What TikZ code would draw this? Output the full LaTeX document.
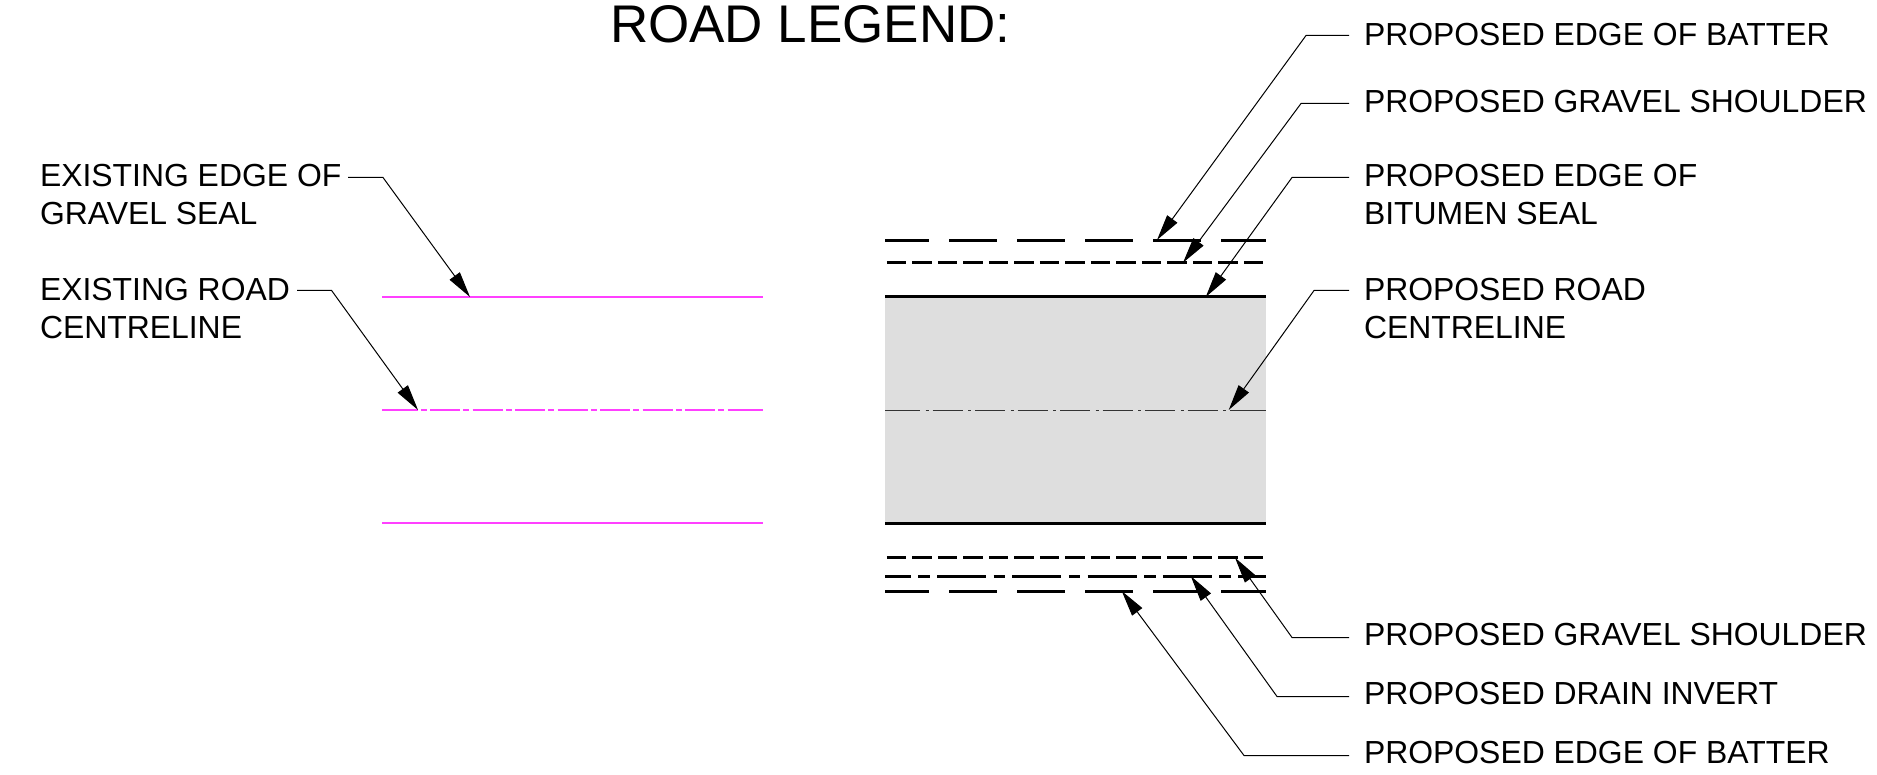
\documentclass[tikz,border=0pt]{standalone}
\usepackage{fontspec}
\setmainfont{Liberation Sans}
\usetikzlibrary{arrows.meta}
\definecolor{roadgrey}{HTML}{DEDEDE}
\definecolor{exmag}{HTML}{FF40FF}
\tikzset{
  lab/.style={anchor=north west,inner sep=0pt,outer sep=0pt,align=left,font=\fontsize{31.9}{38.2}\selectfont},
  titletext/.style={anchor=base west,inner sep=0pt,outer sep=0pt,font=\fontsize{53}{60}\selectfont},
  leader/.style={draw=black,line width=1pt,-{Triangle[length=26pt,width=12.5pt]}},
  heavy/.style={draw=black,line width=2.6pt},
  thinline/.style={draw=black!80,line width=1pt},
  exline/.style={draw=exmag,line width=1.9pt},
  batter/.style={heavy,dash pattern=on 47.5pt off 20.5pt,dash phase=3.7pt},
  shoulder/.style={heavy,dash pattern=on 19.3pt off 6.2pt,dash phase=23.7pt},
  drain/.style={heavy,dash pattern=on 49pt off 7.5pt on 11.6pt off 7.2pt,dash phase=23.3pt},
  propcl/.style={thinline,dash pattern=on 30pt off 5.5pt on 3.3pt off 3.7pt},
  excl/.style={exline,dash pattern=on 30pt off 3.3pt on 6pt off 3.2pt}
}
\begin{document}
\begin{tikzpicture}[x=1pt,y=-1pt]
\useasboundingbox (0,0) rectangle (1877,775);
\fill[white] (0,0) rectangle (1877,775);

\node[titletext] (title) at (610,42.2) {ROAD LEGEND:};

% road band
\fill[roadgrey] (885,297) rectangle (1266,523.5);
\coordinate (sealTL) at (885,296.5);   \coordinate (sealTR) at (1266,296.5);
\coordinate (sealBL) at (885,523.5); \coordinate (sealBR) at (1266,523.5);
\draw[heavy] (sealTL) -- (sealTR);
\draw[heavy] (sealBL) -- (sealBR);
\draw[batter] (885,240.5) -- (1266,240.5);
\draw[shoulder] (885,262.5) -- (1266,262.5);
\draw[shoulder] (885,557.5) -- (1266,557.5);
\draw[drain] (885,576.5) -- (1266,576.5);
\draw[batter] (885,591.5) -- (1266,591.5);
\draw[thinline] (885,410.5) -- (891,410.5);
\draw[propcl] (890,410.5) -- (1260,410.5);
\draw[thinline] (1258,410.5) -- (1266,410.5);

% existing road
\draw[exline] (382,297) -- (763,297);
\draw[exline] (382,523) -- (763,523);
\draw[exline] (382,410) -- (388,410);
\draw[excl] (387.5,410) -- (757.5,410);
\draw[exline] (755,410) -- (763,410);

% labels
\node[lab] (a) at (1364,23.5) {PROPOSED EDGE OF BATTER};
\node[lab] (b) at (1364,90.5) {PROPOSED GRAVEL SHOULDER};
\node[lab] (c) at (1364,164.5) {PROPOSED EDGE OF\\BITUMEN SEAL};
\node[lab] (d) at (1364,278.5) {PROPOSED ROAD\\CENTRELINE};
\node[lab] (e) at (1364,623.5) {PROPOSED GRAVEL SHOULDER};
\node[lab] (f) at (1364,682.5) {PROPOSED DRAIN INVERT};
\node[lab] (g) at (1364,741.5) {PROPOSED EDGE OF BATTER};
\node[lab] (h) at (40,164.5) {EXISTING EDGE OF\\GRAVEL SEAL};
\node[lab] (i) at (40,278.5) {EXISTING ROAD\\CENTRELINE};

% leader start points, elbows and tips
\coordinate (as) at (1349,35.5);  \coordinate (ae) at (1306,35.5);  \coordinate (at) at (1157,240);
\coordinate (bs) at (1349,103.5); \coordinate (be) at (1301,103.5); \coordinate (bt) at (1183,262.7);
\coordinate (cs) at (1349,177.5); \coordinate (ce) at (1292,177.5); \coordinate (ct) at (1205.7,297);
\coordinate (ds) at (1349,290.5); \coordinate (de) at (1314,290.5); \coordinate (dt) at (1228.7,410);
\coordinate (es) at (1349,637.5); \coordinate (ee) at (1292,637.5); \coordinate (et) at (1235,557.7);
\coordinate (fs) at (1349,696.5); \coordinate (fe) at (1277,696.5); \coordinate (ft) at (1190.7,576);
\coordinate (gs) at (1349,755.5); \coordinate (ge) at (1244,755.5); \coordinate (gt) at (1121.7,591);
\coordinate (hs) at (348,177.5);  \coordinate (he) at (383,177.5);  \coordinate (ht) at (470,297);
\coordinate (is) at (297,290.5);  \coordinate (ie) at (331.6,290.5);\coordinate (it) at (418,410);

\draw[leader] (as) -- (ae) -- (at);
\draw[leader] (bs) -- (be) -- (bt);
\draw[leader] (cs) -- (ce) -- (ct);
\draw[leader] (ds) -- (de) -- (dt);
\draw[leader] (es) -- (ee) -- (et);
\draw[leader] (fs) -- (fe) -- (ft);
\draw[leader] (gs) -- (ge) -- (gt);
\draw[leader] (hs) -- (he) -- (ht);
\draw[leader] (is) -- (ie) -- (it);
\end{tikzpicture}
\end{document}
